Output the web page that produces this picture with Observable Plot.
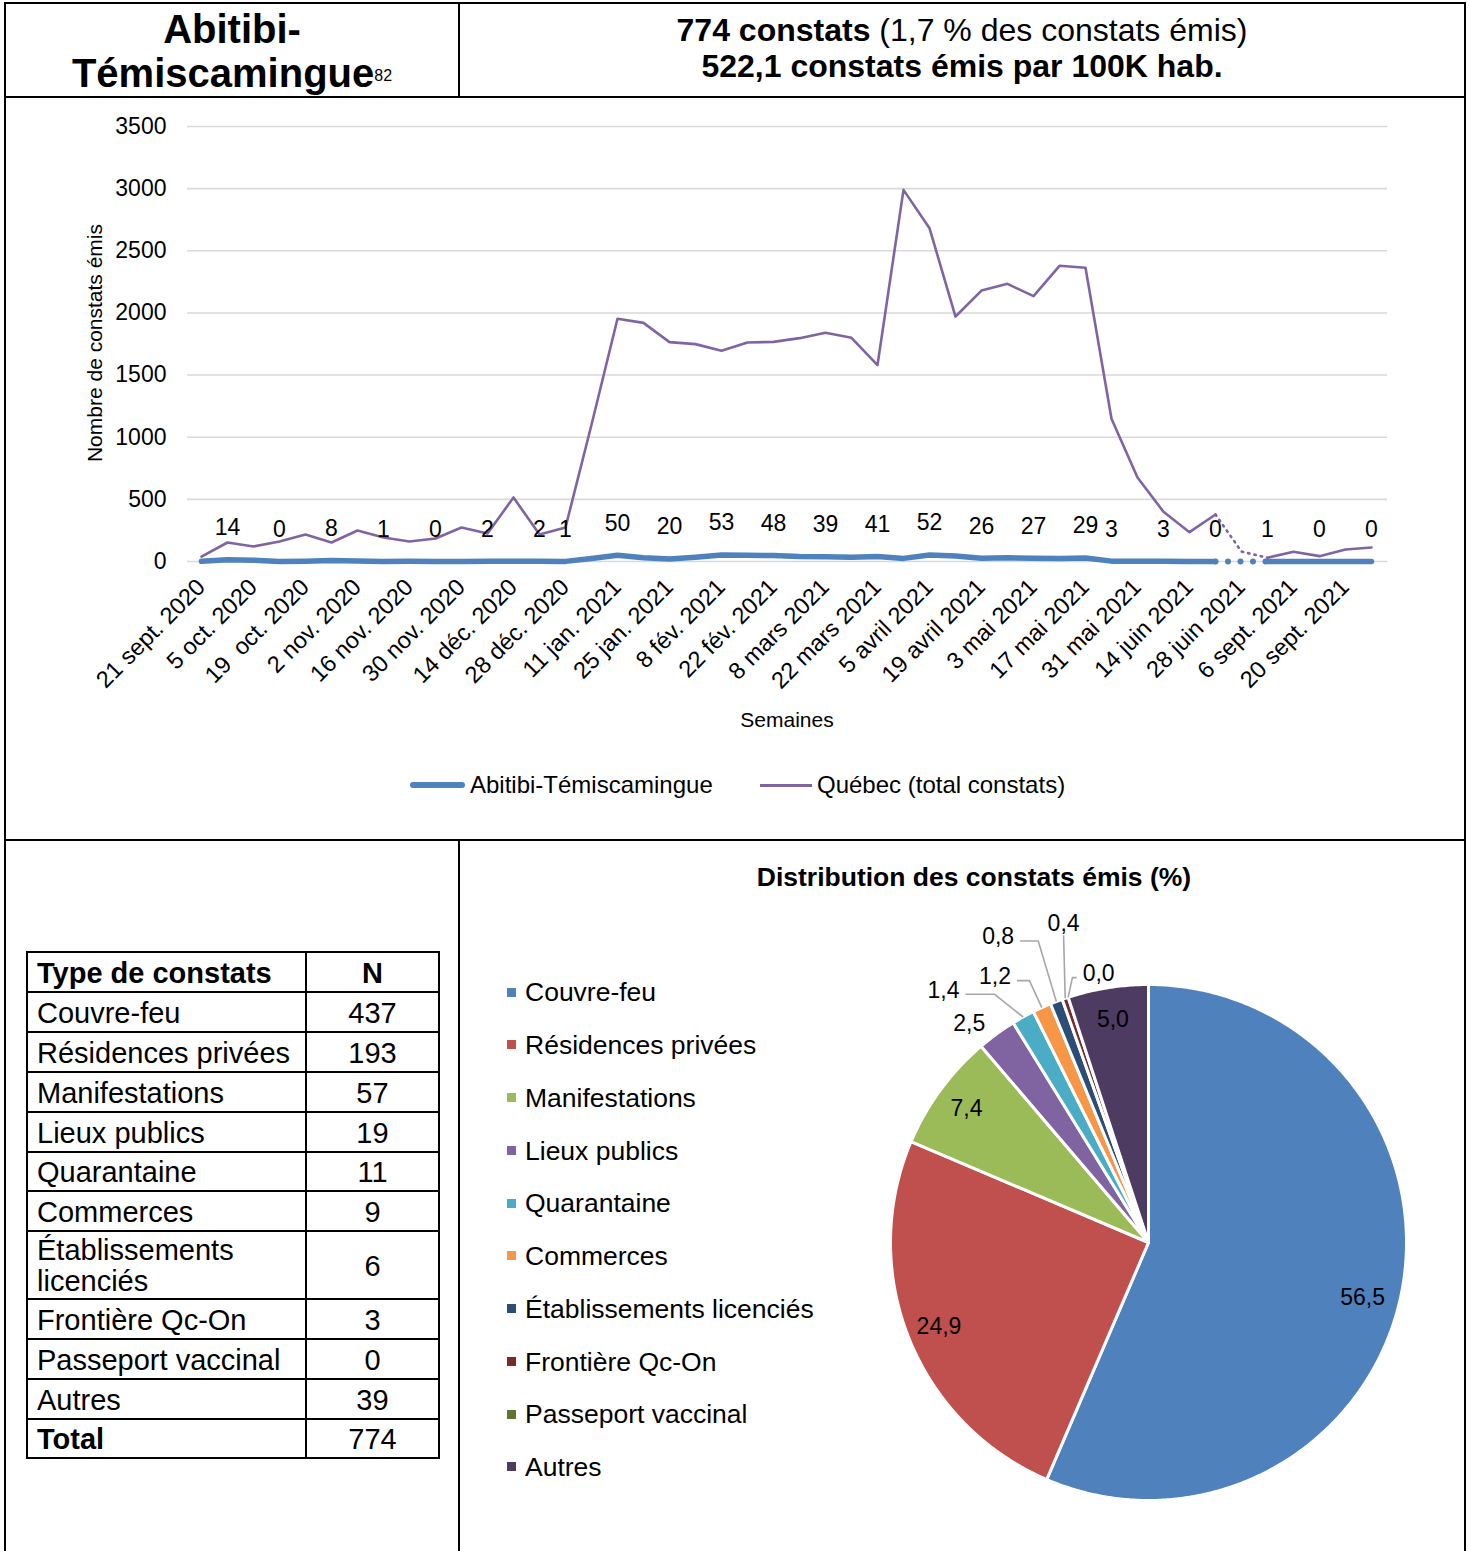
<!DOCTYPE html>
<html><head><meta charset="utf-8">
<script src="https://cdn.jsdelivr.net/npm/d3@7"></script>
<script src="https://cdn.jsdelivr.net/npm/@observablehq/plot@0.6"></script>
<style>
html,body{margin:0;padding:0;background:#fff;}
body{width:1469px;height:1551px;position:relative;overflow:hidden;font-family:"Liberation Sans",Arial,Helvetica,sans-serif;color:#000;}
table.t{position:absolute;left:26px;top:951px;width:414px;border-collapse:collapse;font-size:29px;line-height:33px;}
table.t td{border:2px solid #000;padding:2px 0 0 9px;vertical-align:middle;white-space:nowrap;}
table.t td.n{text-align:center;padding-left:0;}
table.t td.b{font-weight:bold;}
</style></head><body>
<script>
// ---------------- data ----------------
const regionName = "Abitibi-Témiscamingue";
const regionNote = "82";
const totalConstats = 774;
const shareOfAll = "1,7";
const ratePer100k = "522,1";

const weeks = [
  "21 sept. 2020","28 sept. 2020","5 oct. 2020","12 oct. 2020","19  oct. 2020","26 oct. 2020",
  "2 nov. 2020","9 nov. 2020","16 nov. 2020","23 nov. 2020","30 nov. 2020","7 déc. 2020",
  "14 déc. 2020","21 déc. 2020","28 déc. 2020","4 jan. 2021","11 jan. 2021","18 jan. 2021",
  "25 jan. 2021","1 fév. 2021","8 fév. 2021","15 fév. 2021","22 fév. 2021","1 mars 2021",
  "8 mars 2021","15 mars 2021","22 mars 2021","29 mars 2021","5 avril 2021","12 avril 2021",
  "19 avril 2021","26 avril 2021","3 mai 2021","10 mai 2021","17 mai 2021","24 mai 2021",
  "31 mai 2021","7 juin 2021","14 juin 2021","21 juin 2021","28 juin 2021","30 août 2021",
  "6 sept. 2021","13 sept. 2021","20 sept. 2021","27 sept. 2021"
];
const abitibiValues = [
  2,14,10,0,3,8,5,1,2,0,1,2,2,2,1,25,50,30,20,35,53,50,48,40,39,35,41,25,52,45,
  26,30,27,25,29,3,3,3,1,0,0,1,0,0,0,0
];
const quebecValues = [
  40,153,121,161,217,153,249,193,161,185,274,225,515,217,274,1100,1953,1920,1765,1749,
  1695,1762,1767,1797,1840,1800,1580,2990,2682,1971,2180,2234,2135,2379,2363,1148,676,400,
  236,378,80,30,78,43,97,113
];
// weeks (by position in the list) whose Abitibi value carries a data label
const labeledWeekIdx = [1,3,5,7,9,11,13,14,16,18,20,22,24,26,28,30,32,34,35,37,39,41,43,45];
// the stretch drawn dotted (summer gap)
const dottedFrom = 39, dottedTo = 41;
const yTicks = [0,500,1000,1500,2000,2500,3000,3500];

const types = ["Couvre-feu","Résidences privées","Manifestations","Lieux publics","Quarantaine",
  "Commerces","Établissements licenciés","Frontière Qc-On","Passeport vaccinal","Autres"];
const counts = [437,193,57,19,11,9,6,3,0,39];
const pcts = [56.5,24.9,7.4,2.5,1.4,1.2,0.8,0.4,0.0,5.0];
const pieColors = ["#4f81bd","#c0504d","#9bbb59","#8064a2","#4bacc6","#f79646","#2c4d75","#772c2a","#5f7530","#4d3b62"];

// ---------------- page frame ----------------
const FONT = '"Liberation Sans", Arial, Helvetica, sans-serif';
function el(tag, css, html){ const e=document.createElement(tag); e.style.cssText=css; if(html!=null) e.innerHTML=html; document.body.appendChild(e); return e; }
function rule(l,t,w,h){ el("div",`position:absolute;background:#000;left:${l}px;top:${t}px;width:${w}px;height:${h}px;`); }
rule(4,2,1462,2); rule(4,96,1462,2); rule(4,839,1462,2);
rule(4,2,2,1549); rule(1464,2,2,1549);
rule(458,2,2,95); rule(458,840,2,711);

const [r1,r2] = regionName.split("-");
el("div",`position:absolute;left:5px;top:7px;width:454px;text-align:center;font-weight:bold;font-size:40px;line-height:44px;`,
  `${r1}-<br>${r2}<span style="font-size:16px;font-weight:normal;position:relative;top:-6px;">${regionNote}</span>`);
el("div",`position:absolute;left:459px;top:12px;width:1006px;text-align:center;font-size:32px;line-height:36px;`,
  `<b>${totalConstats} constats</b> (${shareOfAll} % des constats émis)<br><b>${ratePer100k} constats émis par 100K hab.</b>`);

// ---------------- line chart ----------------
const rows = weeks.map((w,i)=>({week:w, i, ab:abitibiValues[i], qc:quebecValues[i]}));
const solidRows = rows.map(r => (r.i>dottedFrom && r.i<dottedTo) ? {...r, ab:NaN, qc:NaN} : r);
const dottedRows = rows.filter(r => r.i>=dottedFrom && r.i<=dottedTo);
const labelRows = rows.filter(r => labeledWeekIdx.includes(r.i));
const tickWeeks = weeks.filter((w,i)=> i%2===0);

const lineChart = Plot.plot({
  width:1469, height:640,
  marginLeft:187, marginRight:82, marginTop:29, marginBottom:176,
  style:{fontFamily:FONT, fontSize:"23px", color:"#000", background:"transparent", maxWidth:"none", overflow:"visible"},
  x:{type:"point", domain:weeks, range:[198,1374], padding:0, axis:null},
  y:{domain:[0,3500], ticks:yTicks, tickSize:0, tickPadding:21, label:null, tickFormat:d=>String(d)},
  marks:[
    Plot.ruleY(yTicks,{stroke:"#d9d9d9", strokeWidth:1.6}),
    Plot.line(solidRows,{x:"week", y:"ab", stroke:"#4f81bd", strokeWidth:5.5}),
    Plot.line(dottedRows,{x:"week", y:"ab", stroke:"#4f81bd", strokeWidth:6, strokeDasharray:"0,12.5", strokeLinecap:"round"}),
    Plot.line(solidRows,{x:"week", y:"qc", stroke:"#8064a2", strokeWidth:2.6}),
    Plot.line(dottedRows,{x:"week", y:"qc", stroke:"#8064a2", strokeWidth:2.6, strokeDasharray:"1.5,5", strokeLinecap:"round"}),
    Plot.text(labelRows,{x:"week", y:"ab", text:d=>String(d.ab), dy:-32, fontSize:23, fill:"#000"}),
    Plot.text(tickWeeks,{x:d=>d, frameAnchor:"bottom", text:d=>d, rotate:-45, textAnchor:"end", dx:5, dy:27, fontSize:23.5, fill:"#000"})
  ]
});
const lc = el("div","position:absolute;left:0;top:97px;width:1469px;height:640px;");
lc.appendChild(lineChart);

el("div",`position:absolute;left:-105px;top:330px;width:400px;height:26px;line-height:26px;text-align:center;font-size:21px;transform:rotate(-90deg);`,"Nombre de constats émis");
el("div",`position:absolute;left:687px;top:707px;width:200px;text-align:center;font-size:21px;line-height:26px;`,"Semaines");
el("div",`position:absolute;left:410px;top:782px;width:55px;height:6px;border-radius:3px;background:#4f81bd;`);
el("div",`position:absolute;left:470px;top:771px;font-size:24px;line-height:28px;white-space:nowrap;`,regionName);
el("div",`position:absolute;left:760px;top:784px;width:52px;height:2.5px;background:#8064a2;`);
el("div",`position:absolute;left:817px;top:771px;font-size:24px;line-height:28px;white-space:nowrap;`,"Québec (total constats)");

// ---------------- table ----------------
const rowH = [40,40,40,40,40,39,40,68,40,40,40,39];
let th = `<tr style="height:${rowH[0]}px"><td class="b" style="width:268px">Type de constats</td><td class="n b">N</td></tr>`;
types.forEach((t,i)=>{
  const label = t==="Établissements licenciés" ? "Établissements<br>licenciés" : t;
  const lh = t==="Établissements licenciés" ? "line-height:31px;" : "";
  th += `<tr style="height:${rowH[i+1]}px"><td style="${lh}">${label}</td><td class="n">${counts[i]}</td></tr>`;
});
th += `<tr style="height:${rowH[11]}px"><td class="b">Total</td><td class="n">${totalConstats}</td></tr>`;
const tbl = el("table","",th); tbl.className="t";

// ---------------- pie ----------------
el("div",`position:absolute;left:674px;top:862px;width:600px;text-align:center;font-weight:bold;font-size:26.5px;line-height:30px;`,"Distribution des constats émis (%)");
types.forEach((t,i)=>{
  const yc = 992 + i*52.75;
  el("div",`position:absolute;left:507px;top:${yc-4.5}px;width:9px;height:9px;background:${pieColors[i]};`);
  el("div",`position:absolute;left:525px;top:${yc-14.7}px;font-size:26.5px;line-height:30px;white-space:nowrap;`,t);
});

const R = 258, pieW = 600, pieH = 650, pcx = 288, pcy = 347;
const arcs = d3.pie().sort(null).value(d=>d)(counts);
const sliceMarks = [];
arcs.forEach((a,i)=>{
  const span = a.endAngle - a.startAngle;
  if (span <= 0) return;
  const n = Math.max(2, Math.ceil(span/(Math.PI/360)));
  const pts = [{x:0,y:0}];
  for (let k=0;k<=n;k++){ const t=a.startAngle+span*k/n; pts.push({x:Math.sin(t), y:Math.cos(t)}); }
  pts.push({x:0,y:0});
  sliceMarks.push(Plot.line(pts,{x:"x", y:"y", fill:pieColors[i], stroke:"#fff", strokeWidth:3, strokeLinejoin:"round", curve:"linear"}));
});
// label placement, as Excel placed them: [angle clockwise from top (deg), radius / R, leader line]
const labelPlacement = {
  "Couvre-feu":[104.4,0.857,false],
  "Lieux publics":[320.7,1.097,false],
  "Quarantaine":[320.9,1.26,true],
  "Commerces":[330,1.19,true],
  "Établissements licenciés":[333.8,1.32,true],
  "Frontière Qc-On":[345.1,1.28,true],
  "Passeport vaccinal":[349.5,1.06,true]
};
const deg = Math.PI/180;
const pieLabels = [], leaders = [];
arcs.forEach((a,i)=>{
  const mid = (a.startAngle+a.endAngle)/2;
  const p = labelPlacement[types[i]];
  const ang = p ? p[0]*deg : mid, rf = p ? p[1] : 0.875;
  const lx = rf*R*Math.sin(ang), ly = -rf*R*Math.cos(ang);
  pieLabels.push({x:lx/R, y:-ly/R, text:pcts[i].toFixed(1).replace(".",",")});
  if (p && p[2]) {
    const ex = R*Math.sin(mid), ey = -R*Math.cos(mid);
    let path;
    if (Math.abs(ex-lx) < 20) path = [[lx, ly+12],[ex,ey]];
    else { const sx = ex>lx ? lx+22 : lx-22, sy = ly+4; path = [[sx,sy],[sx+(ex-sx)/2,sy],[ex,ey]]; }
    path.forEach(([px,py])=>leaders.push({k:i, x:px/R, y:-py/R}));
  }
});
const pie = Plot.plot({
  width:pieW, height:pieH, margin:0,
  style:{fontFamily:FONT, background:"transparent", maxWidth:"none", overflow:"visible"},
  x:{domain:[-1,1], range:[pcx-R, pcx+R], axis:null},
  y:{domain:[-1,1], range:[pcy+R, pcy-R], axis:null},
  marks:[
    ...sliceMarks,
    Plot.line(leaders,{x:"x", y:"y", z:"k", stroke:"#a6a6a6", strokeWidth:1.6, strokeLinecap:"butt"}),
    Plot.text(pieLabels,{x:"x", y:"y", text:"text", fontSize:23, fill:"#000"})
  ]
});
const pc = el("div",`position:absolute;left:860px;top:895px;width:${pieW}px;height:${pieH}px;`);
pc.appendChild(pie);
</script>
</body></html>
